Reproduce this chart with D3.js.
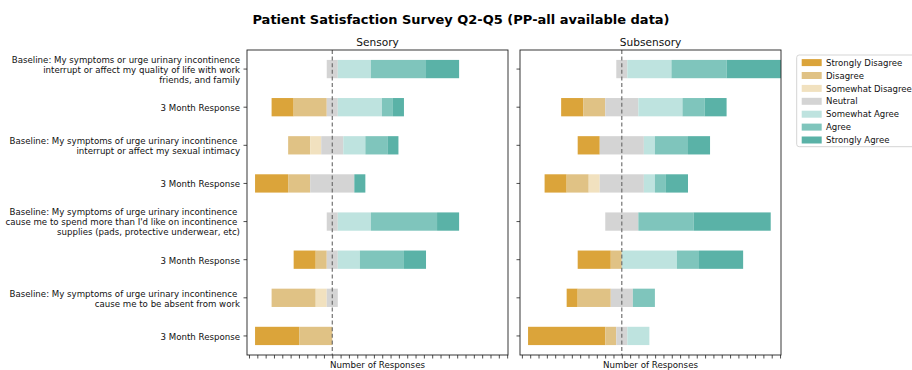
<!DOCTYPE html>
<html><head><meta charset="utf-8">
<script src="https://cdn.jsdelivr.net/npm/d3@7"></script>
<style>
html,body{margin:0;padding:0;background:#fff;}
svg{display:block;font-family:"DejaVu Sans",sans-serif;}
</style></head>
<body><svg id="chart" width="912" height="370"></svg>
<script>
// ---- data ----
const categories = ["Strongly Disagree","Disagree","Somewhat Disagree","Neutral","Somewhat Agree","Agree","Strongly Agree"];
const colors = ["#DBA43A","#E0C285","#F1E1BF","#D4D4D4","#BEE3DF","#7FC5BC","#5AB2A7"];
const rowLabels = [
  ["Baseline: My symptoms or urge urinary incontinence","interrupt or affect my quality of life with work","friends, and family"],
  ["3 Month Response"],
  ["Baseline: My symptoms of urge urinary incontinence ","interrupt or affect my sexual intimacy"],
  ["3 Month Response"],
  ["Baseline: My symptoms of urge urinary incontinence ","cause me to spend more than I'd like on incontinence ","supplies (pads, protective underwear, etc)"],
  ["3 Month Response"],
  ["Baseline: My symptoms of urge urinary incontinence ","cause me to be absent from work"],
  ["3 Month Response"]
];
// counts per row: [SD, D, SwD, N, SA, A, StA]
const sensoryCounts = [
  [0,0,0,1,3,5,3],
  [2,3,0,1,4,1,1],
  [0,2,1,2,2,2,1],
  [3,2,0,4,0,0,1],
  [0,0,0,1,3,6,2],
  [2,1,0,1,2,4,2],
  [0,4,1,1,0,0,0],
  [4,3,0,0,0,0,0]
];
const subsensoryCounts = [
  [0,0,0,1,4,5,5],
  [2,2,0,3,4,2,2],
  [2,0,0,4,1,3,2],
  [2,2,1,4,1,1,2],
  [0,0,0,3,0,5,7],
  [3,1,0,0,5,2,4],
  [1,3,0,2,0,2,0],
  [7,1,0,1,2,0,0]
];
const panelTitles = ["Sensory","Subsensory"];
const chartTitle = "Patient Satisfaction Survey Q2-Q5 (PP-all available data)";
const xLabel = "Number of Responses";

// ---- layout ----
const svg = d3.select("#chart");
const plotTop = 50, plotBottom = 355;
const panels = [
  {x0: 247, w: 261, counts: sensoryCounts, name: panelTitles[0]},
  {x0: 520, w: 261, counts: subsensoryCounts, name: panelTitles[1]}
];
const unitPx = 11.03;

svg.append("text").attr("x", 461).attr("y", 23.5).attr("text-anchor","middle")
  .attr("font-weight","bold").attr("font-size", 13).attr("fill","#000").text(chartTitle);

const y = d3.scaleBand().domain(d3.range(rowLabels.length)).range([plotTop, plotBottom])
  .paddingInner(0.52).paddingOuter(0.26);

function segments(row){
  const negStart = -(row[0]+row[1]+row[2]+row[3]/2);
  let acc = negStart;
  return row.map((v,i)=>{ const s={i, x0:acc, x1:acc+v}; acc+=v; return s; }).filter(s=>s.x1>s.x0);
}

panels.forEach((p, pi) => {
  const maxLeft = d3.max(p.counts, r => r[0]+r[1]+r[2]+r[3]/2);
  const xmin = -maxLeft - 0.73;
  const xmax = xmin + p.w/unitPx;
  const x = d3.scaleLinear().domain([xmin, xmax]).range([p.x0, p.x0+p.w]);
  const g = svg.append("g");
  const clipId = "clip"+pi;
  svg.append("clipPath").attr("id", clipId).append("rect")
    .attr("x", p.x0).attr("y", plotTop).attr("width", p.w).attr("height", plotBottom-plotTop);

  const bars = g.append("g").attr("clip-path", `url(#${clipId})`);
  p.counts.forEach((row, ri) => {
    bars.selectAll(null).data(segments(row)).enter().append("rect")
      .attr("x", d => x(d.x0)).attr("width", d => x(d.x1)-x(d.x0))
      .attr("y", y(ri)).attr("height", y.bandwidth())
      .attr("fill", d => colors[d.i]);
  });

  // zero dashed line
  g.append("line").attr("x1", x(0)).attr("x2", x(0)).attr("y1", plotTop).attr("y2", plotBottom)
    .attr("stroke","#666").attr("stroke-width",1.1).attr("stroke-dasharray","4,2.6");

  // bottom ticks
  const step = 0.755;
  const tvals = [];
  for (let v = 0; v >= xmin; v -= step) tvals.push(v);
  for (let v = step; v <= xmax; v += step) tvals.push(v);
  const xa = g.append("g").attr("transform", `translate(0,${plotBottom})`)
    .call(d3.axisBottom(x).tickValues(tvals).tickFormat("").tickSize(3.5).tickSizeOuter(0));
  xa.select(".domain").remove();
  xa.selectAll("line").attr("stroke","#222").attr("stroke-width",0.8);

  // left ticks
  const ya = g.append("g").attr("transform", `translate(${p.x0},0)`)
    .call(d3.axisLeft(y).tickSize(3.5).tickSizeOuter(0).tickFormat(""));
  ya.select(".domain").remove();
  ya.selectAll(".tick line").attr("stroke","#222").attr("stroke-width",0.8);

  if (pi === 0) {
    ya.selectAll(".tick").each(function(d){
      const lines = rowLabels[d];
      const t = d3.select(this).select("text")
        .attr("x", -7).attr("dy", null).attr("y", 0)
        .attr("text-anchor","end").attr("font-size", 8.65).attr("fill","#111")
        .attr("font-family","DejaVu Sans, sans-serif");
      t.text(null);
      lines.forEach((ln, li) => {
        t.append("tspan").attr("x", -7)
          .attr("y", (li - (lines.length-1)/2)*10.1 + 3.8)
          .style("white-space","pre")
          .text(ln);
      });
    });
  }

  // frame
  g.append("rect").attr("x", p.x0).attr("y", plotTop).attr("width", p.w).attr("height", plotBottom-plotTop)
    .attr("fill","none").attr("stroke","#222").attr("stroke-width",0.9);

  g.append("text").attr("x", p.x0 + p.w/2).attr("y", 46).attr("text-anchor","middle")
    .attr("font-size", 10.6).attr("fill","#111").text(p.name);
  g.append("text").attr("x", p.x0 + p.w/2).attr("y", 368.3).attr("text-anchor","middle")
    .attr("font-size", 8.7).attr("fill","#111").text(xLabel);
});

// legend
const lg = svg.append("g");
lg.append("rect").attr("x", 796.7).attr("y", 55).attr("width", 130).attr("height", 91.7)
  .attr("rx", 2.5).attr("fill","#fff").attr("stroke","#d0d0d0").attr("stroke-width",0.9);
const ly = d3.scaleLinear().domain([0, categories.length-1]).range([62.6, 140]);
categories.forEach((c, i) => {
  lg.append("rect").attr("x", 801.7).attr("y", ly(i)-3.5).attr("width", 20).attr("height", 7)
    .attr("fill", colors[i]);
  lg.append("text").attr("x", 826).attr("y", ly(i)+3.1).attr("font-size", 8.55).attr("fill","#111").text(c);
});
</script></body></html>
